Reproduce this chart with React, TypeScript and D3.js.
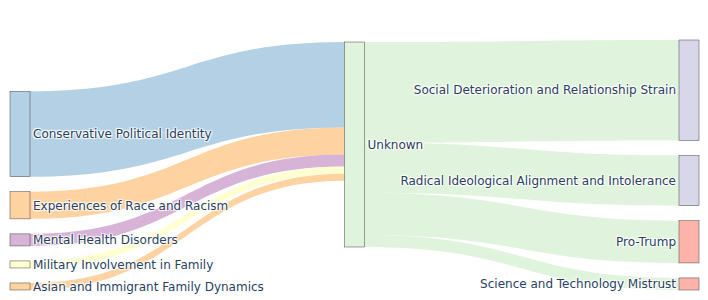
import React from 'react'
import * as d3 from 'd3'

const leftNodes = [
  'Conservative Political Identity',
  'Experiences of Race and Racism',
  'Mental Health Disorders',
  'Military Involvement in Family',
  'Asian and Immigrant Family Dynamics',
]
const leftValues = [85, 27, 12, 7, 7]
const leftColors = ['#80b1d3', '#fdb462', '#bc80bd', '#ffffb3', '#fdb462']

const midNode = 'Unknown'
const midColor = '#ccebc5'

const rightNodes = [
  'Social Deterioration and Relationship Strain',
  'Radical Ideological Alignment and Intolerance',
  'Pro-Trump',
  'Science and Technology Mistrust',
]
const rightValues = [100, 50, 42, 12]
const rightColors = ['#bebada', '#bebada', '#fb8072', '#fb8072']

const W = 708
const H = 300
const top = 40
const bottom = 290
const pad = 15
const nodeW = 20
const textColor = '#2a3f5f'
const font = '"DejaVu Sans", Verdana, sans-serif'
const shadow = '1px 1px 1px #fff, -1px -1px 1px #fff, 1px -1px 1px #fff, -1px 1px 1px #fff'

function band(x0: number, x1: number, s0: number, s1: number, t0: number, t1: number) {
  const xm = (x0 + x1) / 2
  const p = d3.path()
  p.moveTo(x0, s0)
  p.bezierCurveTo(xm, s0, xm, t0, x1, t0)
  p.lineTo(x1, t1)
  p.bezierCurveTo(xm, t1, xm, s1, x0, s1)
  p.closePath()
  return p.toString()
}

export default function App() {
  const sumL = d3.sum(leftValues)
  const sumR = d3.sum(rightValues)
  const midValue = Math.max(sumL, sumR)
  const kL = (bottom - top - (leftValues.length - 1) * pad) / sumL
  const kR = (bottom - top - (rightValues.length - 1) * pad) / sumR
  const ky = d3.scaleLinear().domain([0, 1]).range([0, Math.min(kL, kR)])

  const x = d3.scalePoint<number>().domain([0, 1, 2]).range([10, W - 29])

  // stack a column; align to bottom of the extent
  const stackBottom = (vals: number[]) => {
    const total = d3.sum(vals.map(v => ky(v))) + (vals.length - 1) * pad
    let y = bottom - total
    return vals.map(v => {
      const y0 = y
      y += ky(v) + pad
      return [y0, y0 + ky(v)]
    })
  }
  const leftPos = stackBottom(leftValues)
  const rightPos = stackBottom(rightValues)
  const midPos = [top + 2, top + 2 + ky(midValue)]

  const xL = x(0)!
  const xM = x(1)!
  const xR = x(2)!

  // incoming links at the middle node
  const inOff = d3.cumsum([0, ...leftValues.map(v => ky(v))])
  const outOff = d3.cumsum([0, ...rightValues.map(v => ky(v))])

  return (
    <svg width={W} height={H} style={{ position: 'absolute', left: 0, top: 0, background: '#fff' }}>
      <g>
        {leftValues.map((v, i) => (
          <path
            key={'l' + i}
            d={band(
              xL + nodeW, xM,
              leftPos[i][0], leftPos[i][1],
              midPos[0] + inOff[i], midPos[0] + inOff[i] + ky(v),
            )}
            fill={leftColors[i]}
            fillOpacity={0.6}
          />
        ))}
        {rightValues.map((v, i) => (
          <path
            key={'r' + i}
            d={band(
              xM + nodeW, xR,
              midPos[0] + outOff[i], midPos[0] + outOff[i] + ky(v),
              rightPos[i][0], rightPos[i][1],
            )}
            fill={midColor}
            fillOpacity={0.6}
          />
        ))}
      </g>
      <g stroke="#444" strokeWidth={0.5}>
        {leftPos.map((p, i) => (
          <rect key={'nl' + i} x={xL} y={p[0]} width={nodeW} height={p[1] - p[0]}
            fill={leftColors[i]} fillOpacity={0.6} />
        ))}
        <rect x={xM} y={midPos[0]} width={nodeW} height={midPos[1] - midPos[0]}
          fill={midColor} fillOpacity={0.6} />
        {rightPos.map((p, i) => (
          <rect key={'nr' + i} x={xR} y={p[0]} width={nodeW} height={p[1] - p[0]}
            fill={rightColors[i]} fillOpacity={0.6} />
        ))}
      </g>
      <g fontFamily={font} fontSize={12} fill={textColor} style={{ textShadow: shadow }}>
        {leftNodes.map((n, i) => (
          <text key={'tl' + i} x={xL + nodeW + 3} y={(leftPos[i][0] + leftPos[i][1]) / 2} dy="0.35em">
            {n}
          </text>
        ))}
        <text x={xM + nodeW + 3} y={(midPos[0] + midPos[1]) / 2} dy="0.35em">{midNode}</text>
        {rightNodes.map((n, i) => (
          <text key={'tr' + i} x={xR - 3} y={(rightPos[i][0] + rightPos[i][1]) / 2} dy="0.35em"
            textAnchor="end">
            {n}
          </text>
        ))}
      </g>
    </svg>
  )
}
